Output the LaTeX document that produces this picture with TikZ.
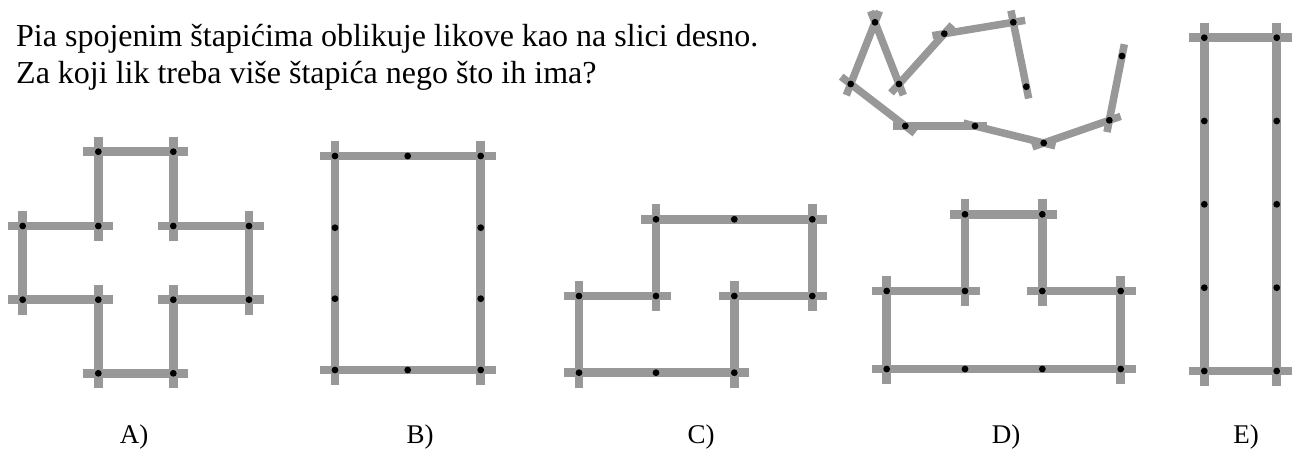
\documentclass[tikz,border=0pt]{standalone}
\usepackage{fontspec}
\setmainfont{Liberation Serif}
\definecolor{stickgray}{RGB}{152,152,152}
\tikzset{
  stick/.style={draw=stickgray, line width=8.5pt, shorten <=-15pt, shorten >=-15pt},
  chainstick/.style={draw=stickgray, line width=7.5pt, shorten <=-12pt, shorten >=-12pt},
  dot/.style={fill=black},
  qtext/.style={anchor=base west, inner sep=0pt, font=\fontsize{32}{38}\selectfont},
  lbl/.style={anchor=base, inner sep=0pt, font=\fontsize{27}{32}\selectfont}
}
\begin{document}
\begin{tikzpicture}[x=1pt,y=-1pt]
\useasboundingbox (0,0) rectangle (1292,455);
% question text
\node[qtext] (q1) at (16,46.7) {Pia spojenim štapićima oblikuje likove kao na slici desno.};
\node[qtext] (q2) at (16,83.3) {Za koji lik treba više štapića nego što ih ima?};

% ---- shape A
\foreach \i/\x in {1/22.7,2/98.3,3/173.3,4/249}
  \foreach \j/\y in {1/151.7,2/226,3/299.7,4/373.3}
    \coordinate (A\i\j) at (\x,\y);
\foreach \p/\q in {21/31,21/22,31/32,12/22,32/42,12/13,42/43,13/23,33/43,23/24,33/34,24/34}
  \draw[stick] (A\p) -- (A\q);
\foreach \p in {21,31,12,22,32,42,13,23,33,43,24,34}
  \fill[dot] (A\p) circle (3.4);

% ---- shape B
\foreach \i/\x in {1/335,2/407.7,3/480.7}
  \foreach \j/\y in {1/156,2/227.7,3/298.7,4/370}
    \coordinate (B\i\j) at (\x,\y);
\foreach \p/\q in {11/21,21/31,14/24,24/34,11/12,12/13,13/14,31/32,32/33,33/34}
  \draw[stick] (B\p) -- (B\q);
\foreach \p in {11,21,31,12,32,13,33,14,24,34}
  \fill[dot] (B\p) circle (3.4);

% ---- shape C
\foreach \i/\x in {1/579,2/656,3/734.3,4/812.3}
  \foreach \j/\y in {1/219.3,2/296,3/372.7}
    \coordinate (C\i\j) at (\x,\y);
\foreach \p/\q in {21/31,31/41,21/22,41/42,12/22,32/42,12/13,32/33,13/23,23/33}
  \draw[stick] (C\p) -- (C\q);
\foreach \p in {21,31,41,12,22,32,42,13,23,33}
  \fill[dot] (C\p) circle (3.4);

% ---- shape D
\foreach \i/\x in {1/886.7,2/965,3/1042.3,4/1120.7}
  \foreach \j/\y in {1/214.3,2/291,3/369}
    \coordinate (D\i\j) at (\x,\y);
\foreach \p/\q in {21/31,21/22,31/32,12/22,32/42,12/13,42/43,13/23,23/33,33/43}
  \draw[stick] (D\p) -- (D\q);
\foreach \p in {21,31,12,22,32,42,13,23,33,43}
  \fill[dot] (D\p) circle (3.4);

% ---- shape E
\foreach \i/\x in {1/1204.3,2/1276.7}
  \foreach \j/\y in {1/37.7,2/121,3/204.3,4/287.7,5/371}
    \coordinate (E\i\j) at (\x,\y);
\foreach \p/\q in {11/21,15/25,11/12,12/13,13/14,14/15,21/22,22/23,23/24,24/25}
  \draw[stick] (E\p) -- (E\q);
\foreach \p in {11,21,12,22,13,23,14,24,15,25}
  \fill[dot] (E\p) circle (3.4);

% ---- chain of sticks (top)
\coordinate (P1) at (875,22.3);
\coordinate (P2) at (850.7,84);
\coordinate (P3) at (899,84);
\coordinate (P4) at (944.3,33.7);
\coordinate (P5) at (1013.3,22.3);
\coordinate (P6) at (1026.3,86.7);
\coordinate (P7) at (905.3,126);
\coordinate (P8) at (975,126);
\coordinate (P9) at (1043.7,143);
\coordinate (P10) at (1109.3,120.3);
\coordinate (P11) at (1122,56);
\foreach \p/\q in {6/5,5/4,4/3,3/1,1/2,2/7,7/8,8/9,9/10,10/11}
  \draw[chainstick] (P\p) -- (P\q);
\foreach \p in {1,...,11}
  \fill[dot] (P\p) circle (3.4);

% ---- labels
\node[lbl] (la) at (134,443) {A)};
\node[lbl] (lb) at (420,443) {B)};
\node[lbl] (lc) at (701,443) {C)};
\node[lbl] (ld) at (1006,443) {D)};
\node[lbl] (le) at (1246,443) {E)};
\end{tikzpicture}
\end{document}
